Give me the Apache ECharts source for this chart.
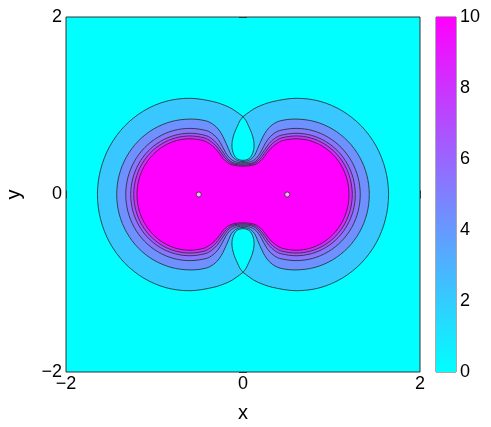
<!DOCTYPE html>
<html>
<head>
<meta charset="utf-8">
<script src="https://cdn.jsdelivr.net/npm/echarts@6/dist/echarts.min.js"></script>
<style>html,body{margin:0;padding:0;background:#fff;}#chart{width:491px;height:427px;}</style>
</head>
<body>
<div id="chart"></div>
<script>
// ---- data ----
const xTicks = [-2, 0, 2];
const yTicks = [-2, 0, 2];
const colorbarTicks = [0, 2, 4, 6, 8, 10];
const chargeX = [-0.5, 0.5];
const chargeY = [0, 0];
// value of the filled region inside each contour (colour scale 0..10)
const regionValues = [2.2, 4.3, 5.4, 6.6, 8.3, 10];
const teardropValue = 0;
// contour lines, first quadrant, from the x axis to the y axis
const contour1 = [[1.645,0],[1.609,0.281],[1.505,0.545],[1.339,0.77],[1.1225,0.942],[0.8705,1.05],[0.6,1.084],[0.3295,1.045],[0.16,0.985],[0.0775,0.935],[0,0.877]];
const contour2 = [[1.427,0],[1.399,0.22],[1.316,0.425],[1.185,0.601],[1.0135,0.736],[0.814,0.821],[0.6,0.85],[0.42,0.83],[0.33,0.785],[0.27,0.725],[0.225,0.65],[0.19,0.575],[0.16,0.505],[0.13,0.44],[0.085,0.395],[0.04,0.376],[0,0.372]];
const contour3 = [[1.325,0],[1.30,0.193],[1.228,0.3725],[1.1125,0.527],[0.9625,0.645],[0.788,0.72],[0.6,0.745],[0.412,0.72],[0.34,0.68],[0.28,0.62],[0.235,0.545],[0.195,0.47],[0.155,0.415],[0.11,0.38],[0.055,0.362],[0,0.358]];
const contour4 = [[1.269,0],[1.246,0.179],[1.179,0.345],[1.073,0.488],[0.9345,0.5975],[0.773,0.6665],[0.6,0.69],[0.427,0.6665],[0.355,0.63],[0.295,0.575],[0.245,0.505],[0.20,0.44],[0.16,0.39],[0.115,0.36],[0.06,0.347],[0,0.345]];
const contour5 = [[1.235,0],[1.213,0.171],[1.15,0.33],[1.049,0.467],[0.9175,0.5715],[0.7645,0.6375],[0.6,0.66],[0.4355,0.6375],[0.365,0.60],[0.305,0.548],[0.255,0.482],[0.21,0.42],[0.165,0.375],[0.12,0.348],[0.06,0.335],[0,0.332]];
const contour6 = [[1.198,0],[1.178,0.163],[1.118,0.314],[1.023,0.444],[0.899,0.544],[0.755,0.607],[0.6,0.628],[0.445,0.607],[0.375,0.57],[0.315,0.52],[0.265,0.46],[0.22,0.40],[0.175,0.36],[0.125,0.335],[0.065,0.323],[0,0.32]];
// right half of the upper low-value teardrop, from its tip down to its bottom
const teardropHalf = [[0,0.877],[0.035,0.83],[0.066,0.765],[0.10,0.685],[0.12,0.61],[0.125,0.54],[0.113,0.475],[0.085,0.42],[0.045,0.392],[0,0.385]];

// ---- build closed loops by symmetry ----
function buildLoop(q, cornerOnYAxis) {
  const out = [];
  q.forEach(p => out.push([p[0], p[1]]));
  const r = q.slice().reverse();
  r.forEach((p, i) => { if (i > 0 || cornerOnYAxis) out.push([-p[0], p[1]]); });
  q.forEach((p, i) => { if (i > 0) out.push([-p[0], -p[1]]); });
  r.forEach((p, i) => { if ((i > 0 || cornerOnYAxis) && i < r.length - 1) out.push([p[0], -p[1]]); });
  return out;
}
function buildTear(half, sign) {
  const out = half.map(p => [p[0], sign * p[1]]);
  const r = half.slice().reverse();
  r.forEach((p, i) => { if (i > 0) out.push([-p[0], sign * p[1]]); });
  return out;
}
const shapes = [
  buildLoop(contour1, true),
  buildTear(teardropHalf, 1),
  buildTear(teardropHalf, -1),
  buildLoop(contour2, false),
  buildLoop(contour3, false),
  buildLoop(contour4, false),
  buildLoop(contour5, false),
  buildLoop(contour6, false)
];
const shapeValues = [regionValues[0], teardropValue, teardropValue, regionValues[1], regionValues[2], regionValues[3], regionValues[4], regionValues[5]];
const contourData = shapeValues.map((v, i) => [v, i]);

const FONT = "'Liberation Sans', Arial, Helvetica, sans-serif";
const fmt = v => (v < 0 ? '\u2212' + Math.abs(v) : String(v));

const chart = echarts.init(document.getElementById('chart'), null, { renderer: 'canvas' });
chart.setOption({
  animation: false,
  backgroundColor: '#ffffff',
  textStyle: { fontFamily: FONT },
  grid: [
    { left: 66, top: 17, width: 354, height: 355, show: true, backgroundColor: '#00FFFF', borderColor: '#333', borderWidth: 1, containLabel: false, outerBoundsMode: 'none' },
    { left: 436, top: 17, width: 20, height: 355, show: true, backgroundColor: 'transparent', borderColor: '#555', borderWidth: 1, containLabel: false, outerBoundsMode: 'none' }
  ],
  visualMap: [{
    type: 'continuous', show: false, min: 0, max: 10, dimension: 0, seriesIndex: 0,
    inRange: { color: ['#00FFFF', '#FF00FF'] }
  }],
  xAxis: [
    { type: 'value', gridIndex: 0, min: xTicks[0], max: xTicks[xTicks.length - 1], interval: 2,
      axisLine: { show: false }, splitLine: { show: false },
      axisTick: { inside: true, length: 4, lineStyle: { color: '#333' } },
      axisLabel: { formatter: fmt, fontSize: 18, color: '#000', margin: 3, fontFamily: FONT },
      name: 'x', nameLocation: 'middle', nameGap: 31, nameTextStyle: { fontSize: 20, color: '#000', fontFamily: FONT } },
    { type: 'value', gridIndex: 0, position: 'top', min: xTicks[0], max: xTicks[xTicks.length - 1], interval: 2,
      axisLine: { show: false }, splitLine: { show: false },
      axisTick: { inside: true, length: 4, lineStyle: { color: '#333' } }, axisLabel: { show: false } },
    { type: 'category', gridIndex: 1, data: ['cb'], show: false }
  ],
  yAxis: [
    { type: 'value', gridIndex: 0, min: yTicks[0], max: yTicks[yTicks.length - 1], interval: 2,
      axisLine: { show: false }, splitLine: { show: false },
      axisTick: { inside: true, length: 4, lineStyle: { color: '#333' } },
      axisLabel: { formatter: fmt, fontSize: 18, color: '#000', margin: 4, fontFamily: FONT },
      name: 'y', nameLocation: 'middle', nameRotate: 90, nameGap: 42, nameTextStyle: { fontSize: 20, color: '#000', fontFamily: FONT } },
    { type: 'value', gridIndex: 0, position: 'right', min: yTicks[0], max: yTicks[yTicks.length - 1], interval: 2,
      axisLine: { show: false }, splitLine: { show: false },
      axisTick: { inside: true, length: 4, lineStyle: { color: '#333' } }, axisLabel: { show: false } },
    { type: 'value', gridIndex: 1, position: 'right', min: colorbarTicks[0], max: colorbarTicks[colorbarTicks.length - 1], interval: 2,
      axisLine: { show: false }, splitLine: { show: false }, axisTick: { show: false },
      axisLabel: { fontSize: 18, color: '#000', margin: 4, fontFamily: FONT } },
    { type: 'value', gridIndex: 1, position: 'left', min: colorbarTicks[0], max: colorbarTicks[colorbarTicks.length - 1], interval: 2,
      axisLine: { show: false }, splitLine: { show: false },
      axisTick: { inside: false, length: 3, lineStyle: { color: '#444' } }, axisLabel: { show: false } }
  ],
  series: [
    {
      type: 'custom', xAxisIndex: 0, yAxisIndex: 0, clip: false, silent: true,
      data: contourData,
      renderItem: function (params, api) {
        const idx = api.value(1);
        const pts = shapes[idx].map(p => api.coord(p));
        return {
          type: 'polygon',
          shape: { points: pts, smooth: 0.33 },
          style: { fill: api.visual('color'), stroke: '#1e2a2a', lineWidth: 0.8 }
        };
      }
    },
    {
      type: 'bar', xAxisIndex: 2, yAxisIndex: 2, barWidth: '100%', silent: true,
      data: [colorbarTicks[colorbarTicks.length - 1]],
      itemStyle: { color: { type: 'linear', x: 0, y: 1, x2: 0, y2: 0,
        colorStops: [{ offset: 0, color: '#00FFFF' }, { offset: 1, color: '#FF00FF' }] } }
    },
    {
      type: 'scatter', xAxisIndex: 0, yAxisIndex: 0, silent: true, z: 5,
      symbol: 'circle', symbolSize: 5,
      itemStyle: { color: '#e8e8e8', borderColor: '#111', borderWidth: 0.8 },
      data: chargeX.map((x, i) => [x, chargeY[i]])
    }
  ]
});
</script>
</body>
</html>
